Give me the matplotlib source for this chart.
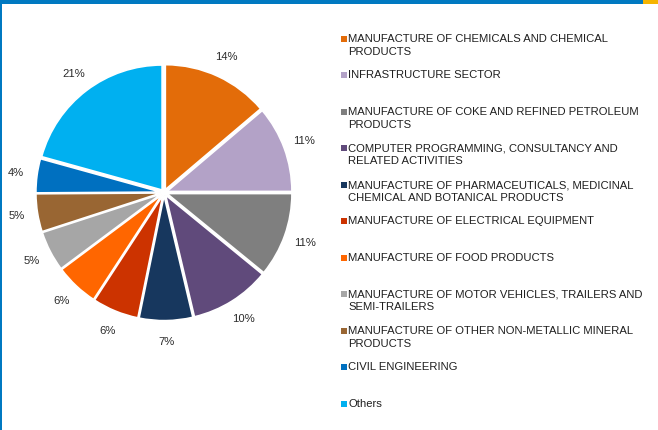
import matplotlib
matplotlib.use('Agg')
import matplotlib.pyplot as plt
from matplotlib.patches import Rectangle

plt.rcParams['font.family'] = ['Liberation Sans', 'DejaVu Sans']

sectors = ['MANUFACTURE OF CHEMICALS AND CHEMICAL\nPRODUCTS',
           'INFRASTRUCTURE SECTOR',
           'MANUFACTURE OF COKE AND REFINED PETROLEUM\nPRODUCTS',
           'COMPUTER PROGRAMMING, CONSULTANCY AND\nRELATED ACTIVITIES',
           'MANUFACTURE OF PHARMACEUTICALS, MEDICINAL\nCHEMICAL AND BOTANICAL PRODUCTS',
           'MANUFACTURE OF ELECTRICAL EQUIPMENT',
           'MANUFACTURE OF FOOD PRODUCTS',
           'MANUFACTURE OF MOTOR VEHICLES, TRAILERS AND\nSEMI-TRAILERS',
           'MANUFACTURE OF OTHER NON-METALLIC MINERAL\nPRODUCTS',
           'CIVIL ENGINEERING',
           'Others']
## shares, labels as printed
shares = [13.8, 11.2, 10.9, 10.4, 6.9, 6.0, 5.6, 5.2, 4.9, 4.4, 20.7]
pct_labels = ['14%', '11%', '11%', '10%', '7%', '6%', '6%', '5%', '5%', '4%', '21%']
colors = ['#E36C09', '#B3A2C7', '#7F7F7F', '#604A7B', '#17375E', '#CC3300',
          '#FF6600', '#A6A6A6', '#996633', '#0070C0', '#00B0F0']

fig = plt.figure(figsize=(6.58, 4.30), dpi=100)

## pie, centre at ~(164,192) px, radius ~125 px
ax = fig.add_axes([1.5/658., 75/430., 325/658., 325/430.])
wedges, texts = ax.pie(shares, colors=colors, startangle=90, counterclock=False,
                       explode=[0.025]*len(shares), labels=pct_labels,
                       labeldistance=1.17,
                       wedgeprops=dict(edgecolor='white', linewidth=1.2),
                       textprops=dict(fontsize=8.1, color='#2B2B2B'))
for t in texts:
    t.set_ha('center')
    t.set_va('center')
ax.set_xlim(-1.3, 1.3)
ax.set_ylim(-1.3, 1.3)
ax.axis('off')

## legend, fixed row pitch
y0 = 38.5
step = 36.5
for i, (name, c) in enumerate(zip(sectors, colors)):
    y = y0 + i*step
    fig.patches.append(Rectangle((341/658., 1 - (y + 3)/430.), 6/658., 6/430.,
                                 transform=fig.transFigure, color=c, lw=0))
    fig.text(348.5/658., 1 - (y - 4.5)/430., name, fontsize=8.1, color='#1F1F1F',
             ha='left', va='top', linespacing=1.32)

## frame bars
fig.patches.append(Rectangle((0, 1 - 4/430.), 1, 4/430., transform=fig.transFigure,
                             color='#0079C1', lw=0))
fig.patches.append(Rectangle((643/658., 1 - 4/430.), 15/658., 4/430., transform=fig.transFigure,
                             color='#F5B400', lw=0))
fig.patches.append(Rectangle((0, 0), 2/658., 1, transform=fig.transFigure,
                             color='#0079C1', lw=0))

fig.savefig('out.png', dpi=100)
